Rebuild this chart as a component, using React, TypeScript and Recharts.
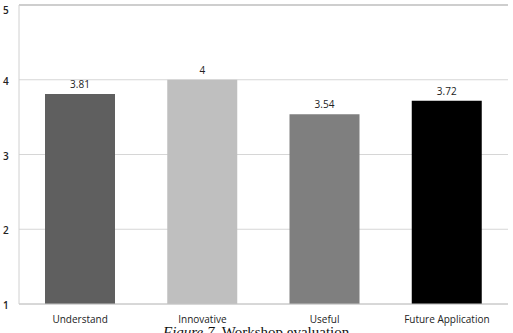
import React from "react";
import { BarChart, Bar, XAxis, YAxis, CartesianGrid, LabelList, Cell, ReferenceLine } from "recharts";

const categories = ["Understand", "Innovative", "Useful", "Future Application"];
const values = [3.81, 4, 3.54, 3.72];
const valueLabels = ["3.81", "4", "3.54", "3.72"];
const barColors = ["#5f5f5f", "#bfbfbf", "#7f7f7f", "#000000"];
const yTicks = [1, 2, 3, 4, 5];
const caption = { italic: "Figure 7.", rest: " Workshop evaluation" };

const data = categories.map((c, i) => ({ name: c, value: values[i], label: valueLabels[i] }));

const FONT = "'Open Sans', 'DejaVu Sans', sans-serif";

const YTick = (props: any) => {
  const { y, payload } = props;
  return (
    <text x={3} y={y + 5} fontFamily={FONT} fontSize={10} fontWeight={600} fill="#222" textAnchor="start">
      {payload.value}
    </text>
  );
};

const XTick = (props: any) => {
  const { x, payload } = props;
  return (
    <text x={x} y={323} fontFamily={FONT} fontSize={10} fill="#222" textAnchor="middle">
      {payload.value}
    </text>
  );
};

export default function App() {
  return (
    <div style={{ position: "absolute", left: 0, top: 0, width: 513, height: 333, background: "#fff", overflow: "hidden" }}>
      <BarChart width={513} height={333} data={data} margin={{ top: 5, right: 5, left: 0, bottom: 0 }}>
        <CartesianGrid horizontal={true} vertical={false} stroke="#d6d6d6" strokeWidth={1} />
        <XAxis
          dataKey="name"
          height={29}
          axisLine={{ stroke: "#c4c4c4" }}
          tickLine={false}
          tick={<XTick />}
          interval={0}
        />
        <YAxis
          width={19}
          domain={[1, 5]}
          ticks={yTicks}
          axisLine={{ stroke: "#d0d0d0" }}
          tickLine={false}
          tick={<YTick />}
          allowDataOverflow
        />
        <ReferenceLine y={5} stroke="#c4c4c4" strokeWidth={1.5} ifOverflow="visible" />
        <Bar dataKey="value" barSize={70} isAnimationActive={false} baseValue={1}>
          {data.map((d, i) => (
            <Cell key={d.name} fill={barColors[i]} />
          ))}
          <LabelList dataKey="label" position="top" offset={6} fontFamily={FONT} fontSize={10} fill="#222" />
        </Bar>
      </BarChart>
      <svg width={513} height={333} style={{ position: "absolute", left: 0, top: 0, pointerEvents: "none" }}>
        <text x={163} y={337} fontFamily="'Liberation Serif', serif" fontSize={15} fill="#111">
          <tspan fontStyle="italic">{caption.italic}</tspan>
          <tspan>{caption.rest}</tspan>
        </text>
      </svg>
    </div>
  );
}
